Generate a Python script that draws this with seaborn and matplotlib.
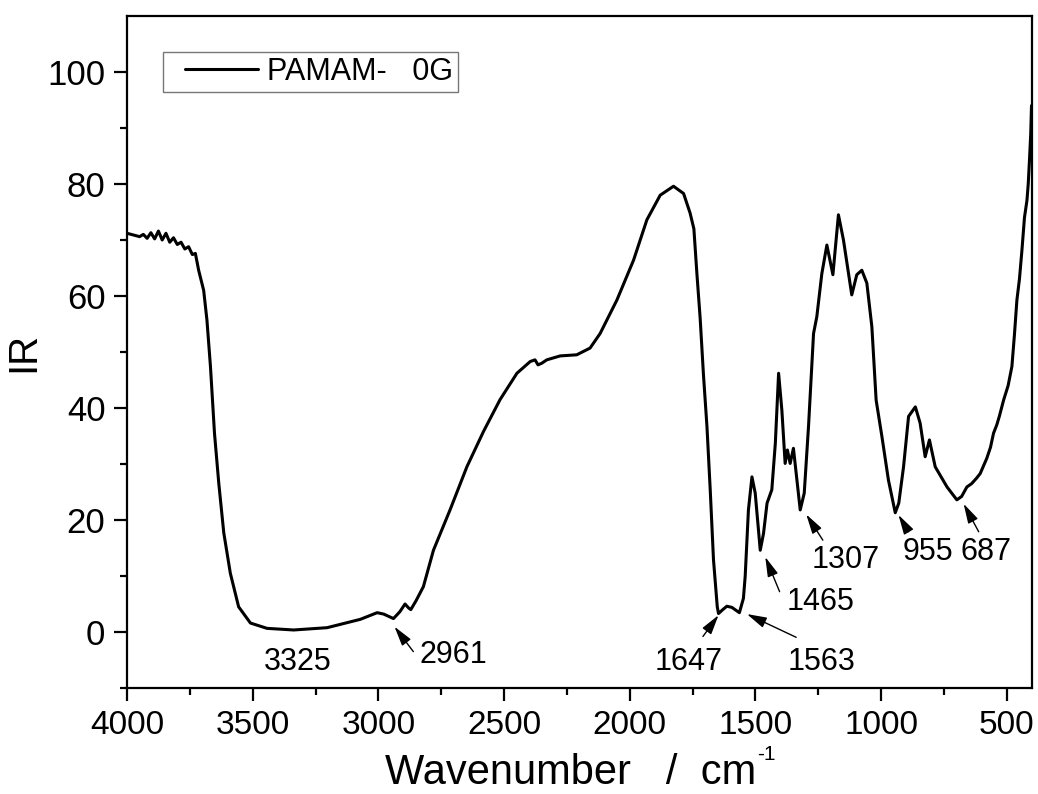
import matplotlib
matplotlib.use("Agg")
import matplotlib.pyplot as plt
from matplotlib.ticker import FixedLocator
from matplotlib.lines import Line2D
from matplotlib.legend_handler import HandlerLine2D
import seaborn as sns
import pandas as pd

# ---- data ----
wavenumber = [4000, 3975, 3950, 3935, 3920, 3905, 3890, 3875, 3860, 3845, 3830, 3815,
              3800, 3785, 3770, 3755, 3740, 3728, 3715, 3695, 3682, 3668, 3652, 3635,
              3615, 3589, 3556, 3509, 3443, 3337, 3204, 3072, 3005, 2979, 2960, 2940,
              2915, 2894, 2880, 2871, 2850, 2821, 2781, 2715, 2648, 2582, 2516, 2449,
              2396, 2377, 2365, 2350, 2330, 2277, 2211, 2158, 2118, 2051, 1985, 1932,
              1879, 1826, 1786, 1760, 1745, 1733, 1720, 1707, 1693, 1680, 1667, 1660,
              1652, 1647, 1630, 1614, 1594, 1564, 1548, 1541, 1528, 1514, 1501, 1481,
              1468, 1454, 1435, 1421, 1408, 1395, 1382, 1373, 1362, 1349, 1335, 1322,
              1306, 1289, 1269, 1256, 1236, 1216, 1192, 1170, 1150, 1117, 1097, 1077,
              1057, 1037, 1020, 997, 971, 944, 930, 911, 891, 864, 845, 825, 808, 785,
              738, 699, 680, 659, 640, 620, 606, 580, 565, 553, 540, 530, 513, 495, 480,
              470, 460, 450, 440, 430, 420, 415, 410, 405, 402]
ir = [71.2, 70.9, 70.6, 71.0, 70.3, 71.3, 70.2, 71.6, 70.0, 71.2, 69.6, 70.4,
      69.2, 69.6, 68.4, 68.8, 67.4, 67.6, 64.6, 61.0, 55.7, 47.4, 35.5, 26.6,
      17.7, 10.5, 4.5, 1.6, 0.65, 0.36, 0.77, 2.26, 3.45, 3.2, 2.8, 2.4,
      3.6, 5.0, 4.3, 4.0, 5.6, 8.1, 14.6, 21.8, 29.5, 35.8, 41.5, 46.2,
      48.3, 48.6, 47.7, 48.0, 48.6, 49.3, 49.5, 50.7, 53.3, 59.3, 66.4, 73.6,
      78.0, 79.6, 78.3, 74.8, 72.0, 64.0, 56.0, 46.0, 36.7, 25.4, 12.9, 9.0,
      4.5, 3.3, 4.0, 4.6, 4.4, 3.45, 6.0, 9.9, 21.8, 27.7, 24.8, 14.6,
      17.6, 23.0, 25.4, 33.7, 46.2, 39.6, 30.1, 32.5, 30.1, 32.8, 27.1, 21.8,
      24.8, 36.7, 53.3, 56.3, 64.0, 69.1, 63.8, 74.5, 70.0, 60.2, 63.8, 64.6,
      62.3, 54.5, 41.4, 34.9, 27.1, 21.3, 23.0, 29.5, 38.5, 40.2, 37.3, 31.3, 34.3, 29.5,
      25.9, 23.6, 24.2, 25.9, 26.5, 27.5, 28.3, 31.0, 33.0, 35.5, 37.0, 38.5, 41.4, 44.0, 47.4,
      53.0, 59.3, 63.0, 68.2, 74.0, 77.1, 80.0, 84.3, 89.0, 94.0]

series_name = "PAMAM-   0G"

x_ticks = [4000, 3500, 3000, 2500, 2000, 1500, 1000, 500]
y_ticks = [0, 20, 40, 60, 80, 100]

peak_labels = ["3325", "2961", "1647", "1563", "1465", "1307", "955", "687"]
# text centre (x, y) in data units
peak_text_x = [3322, 2703, 1767, 1236, 1243, 1142, 813, 582]
peak_text_y = [-5.3, -4.1, -5.4, -5.4, 5.4, 12.9, 14.3, 14.3]
# arrow tail and tip (None for no arrow)
arrow_tail = [None, (2861, -3.5), (1709, -0.8), (1338, -0.95), (1404, 7.2),
              (1232, 16.4), (891, 17.9), (612, 17.9)]
arrow_tip = [None, (2936, 0.95), (1647, 3.0), (1534, 3.2), (1461, 13.4),
             (1298, 21.0), (931, 20.9), (672, 22.9)]

df = pd.DataFrame({"Wavenumber": wavenumber, "IR": ir, "series": series_name})

sns.set_style("ticks")
plt.rcParams["font.family"] = ["Liberation Sans", "DejaVu Sans"]
for k in ["text.color", "axes.labelcolor", "xtick.color", "ytick.color", "axes.edgecolor"]:
    plt.rcParams[k] = "black"

fig = plt.figure(figsize=(10.38, 7.94), dpi=100)
ax = fig.add_axes([127 / 1038, 1 - 688 / 794, 905 / 1038, 672 / 794])

sns.lineplot(data=df, x="Wavenumber", y="IR", hue="series", palette=["black"],
             sort=False, estimator=None, linewidth=2.2, ax=ax)

ax.set_xlim(4000, 400)
ax.set_ylim(-10, 110)
ax.xaxis.set_major_locator(FixedLocator(x_ticks))
ax.xaxis.set_minor_locator(FixedLocator([3750, 3250, 2750, 2250, 1750, 1250, 750]))
ax.yaxis.set_major_locator(FixedLocator(y_ticks))
ax.yaxis.set_minor_locator(FixedLocator([-10, 10, 30, 50, 70, 90]))
ax.set_xticklabels([str(t) for t in x_ticks])
ax.set_yticklabels([str(t) for t in y_ticks])

for s in ax.spines.values():
    s.set_linewidth(1.6)
    s.set_color("black")
ax.tick_params(axis="both", which="major", direction="out", length=9.5, width=1.6,
               pad=6, colors="black")
ax.tick_params(axis="y", which="major", labelsize=25)
ax.tick_params(axis="x", which="major", labelsize=24)
ax.tick_params(axis="both", which="minor", direction="out", length=5, width=1.6)
ax.tick_params(top=False, right=False, which="both")

ax.set_xlabel("Wavenumber   /  cm", fontsize=30)
ax.xaxis.set_label_coords(0.49, -0.096)
ax.set_ylabel("IR", fontsize=29)
ax.yaxis.set_label_coords(-0.094, 0.5)

for lab, tx, ty, tail, tip in zip(peak_labels, peak_text_x, peak_text_y, arrow_tail, arrow_tip):
    ax.text(tx, ty, lab, fontsize=22, ha="center", va="center", color="black")
    if tail is not None:
        ax.annotate("", xy=tip, xytext=tail,
                    arrowprops=dict(arrowstyle="-|>,head_length=0.8,head_width=0.22",
                                    mutation_scale=15, color="black", lw=1.0,
                                    shrinkA=0, shrinkB=0))

fs_pt = 22
fs_px = fs_pt * 100 / 72
bp = 0.16
p = (22 - bp * fs_px) / fs_px
w_px = 73 + p * fs_px
text_off = 267 - 163 - bp * fs_px
leg = ax.legend(loc="upper left", bbox_to_anchor=(36 / 905, 1 - 36 / 672),
                borderaxespad=0, fontsize=fs_pt, frameon=True, fancybox=False,
                handlelength=w_px / fs_px, handletextpad=(text_off - w_px) / fs_px,
                borderpad=bp, handler_map={Line2D: HandlerLine2D(xpad=p)})
leg.get_frame().set_edgecolor("#555555")
leg.get_frame().set_linewidth(1.0)
for h in leg.get_lines():
    h.set_linewidth(2.2)

# superscript "-1" after the x label
fig.canvas.draw()
bb = ax.xaxis.label.get_window_extent()
fig.text(bb.x1 / fig.bbox.width + 0.001, (bb.y1 + 8) / fig.bbox.height, "-1",
         fontsize=15, ha="left", va="top", color="black")

fig.savefig("out.png", dpi=100)
